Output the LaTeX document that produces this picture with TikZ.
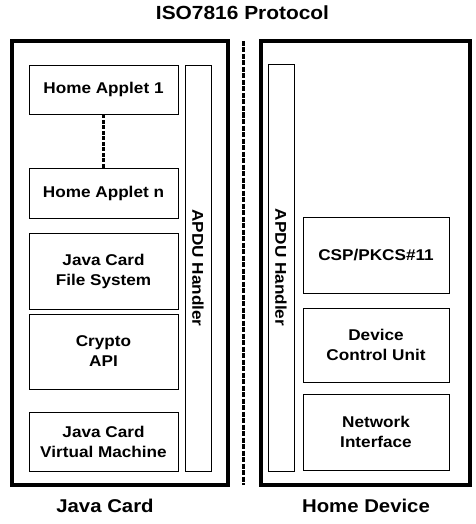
\documentclass[tikz,border=0pt]{standalone}
\usepackage{fontspec}
\setmainfont{Liberation Sans}[FakeStretch=1.1]
\begin{document}
\begin{tikzpicture}[x=1pt,y=-1pt,
  boxfont/.style={font=\fontsize{15.6}{20}\selectfont\bfseries},
  box/.style={draw=black, line width=0.9pt, rectangle, inner sep=0pt, align=center, boxfont},
  vtext/.style={inner sep=0pt, rotate=-90, boxfont},
  outer/.style={draw=black, line width=4pt, rectangle, inner sep=0pt},
  dashline/.style={line width=2.6pt, dash pattern=on 5pt off 1.5pt},
  label/.style={font=\fontsize{18.5}{22}\selectfont\bfseries, anchor=base, inner sep=0pt}]
\useasboundingbox (0,0) rectangle (475,524);
% outer containers
\node[outer, minimum width=215.5, minimum height=443.5] (card) at (119.75,263.25) {};
\node[outer, minimum width=209.5, minimum height=443.5] (dev) at (365.25,263.25) {};
% divider
\coordinate (dtop) at (243.5,41);
\coordinate (dbot) at (243.5,485);
\draw[dashline] (dtop) -- (dbot);
% title and labels
\node[label, font=\fontsize{19}{22}\selectfont\bfseries] (title) at (242.5,19.3) {ISO7816 Protocol};
\node[label] (lcard) at (105,512.3) {Java Card};
\node[label] (ldev) at (366,512.3) {Home Device};
% Java Card side
\node[box, minimum width=149, minimum height=49] (ha1) at (103.5,89.5) {Home Applet 1};
\node[box, minimum width=149, minimum height=50] (han) at (103.5,193) {Home Applet n};
\node[box, minimum width=149, minimum height=76] (jcfs) at (103.5,271) {Java Card\\File System};
\node[box, minimum width=149, minimum height=75] (crypto) at (103.5,351.5) {Crypto\\API};
\node[box, minimum width=149, minimum height=59] (jcvm) at (103.5,441.5) {Java Card\\Virtual Machine};
\node[box, minimum width=26, minimum height=406] (apduL) at (198,268) {};
\node[vtext] (apduLt) at (apduL.center) {APDU Handler};
\draw[line width=2.2pt, dash pattern=on 4pt off 1.5pt] (ha1.south) -- (han.north);
% Home Device side
\node[box, minimum width=26, minimum height=407] (apduR) at (281,267.5) {};
\node[vtext] (apduRt) at (apduR.center) {APDU Handler};
\node[box, minimum width=146, minimum height=76] (csp) at (376,255) {CSP/PKCS\#11};
\node[box, minimum width=146, minimum height=74] (dcu) at (376,345) {Device\\Control Unit};
\node[box, minimum width=146, minimum height=76] (ni) at (376,432) {Network\\Interface};
\end{tikzpicture}
\end{document}
